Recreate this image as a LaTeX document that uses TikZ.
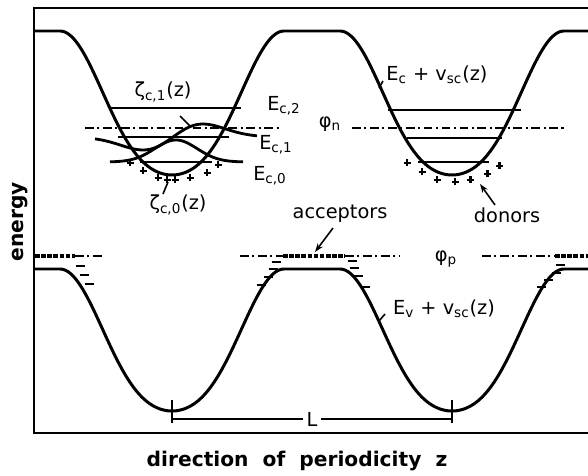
\documentclass[tikz,border=0pt]{standalone}
\usepackage{fontspec}
\setmainfont{DejaVu Sans}
\usetikzlibrary{arrows.meta}
\tikzset{
  every picture/.style={line width=1.3pt},
  band/.style={line width=1.7pt, line join=round},
  level/.style={line width=1.4pt},
  wave/.style={line width=1.6pt},
  fermi/.style={line width=1.5pt, dash pattern=on 5pt off 2pt on 1.2pt off 2pt},
  acc/.style={line width=2.6pt, dash pattern=on 2.6pt off 0.9pt},
  lbl/.style={font=\fontsize{11}{13}\selectfont, inner sep=1pt},
  axislbl/.style={font=\bfseries\fontsize{11.5}{14}\selectfont},
  pointer/.style={-{Stealth[length=5pt, width=3.5pt]}, line width=0.9pt},
  leader/.style={line width=0.9pt},
}

\begin{document}
\begin{tikzpicture}[x=0.02cm, y=-0.02cm,
    charge/.style={line width=1.7pt},
    declare function={dist(\x)=abs(mod(\x-32,280)-140);
                      tt(\x)=min(dist(\x)/112,1);
                      cc(\x)=(1-cos(180*tt(\x)))/2;
                      ss(\x)=cc(\x)*(1+cc(\x))/2;}]
  \useasboundingbox (0,0) rectangle (588,476);
  % frame
  \draw (588,8) -- (34,8) -- (34,433) -- (588,433);

  % band edges
  \draw[band] plot[domain=34:588, samples=278] (\x, {175-144*ss(\x)});
  \draw[band] plot[domain=34:588, samples=278] (\x, {411-142*ss(\x)});

  % subband levels
  \draw[level] (110,108) -- (241,108);
  \draw[level] (118,137) -- (229,137);
  \draw[level] (140,162) -- (212,162);
  \draw[level] (388,110) -- (521,110);
  \draw[level] (407,138) -- (502,138);
  \draw[level] (418,162) -- (489,162);

  % envelope functions
  \draw[wave] plot[domain=110:243, samples=80] (\x, {162-22*exp(-((\x-176)/30)^2)});
  \draw[wave] plot[domain=95:257, samples=80] (\x, {137-21.4*((\x-173)/30)*exp(-0.5*((\x-173)/30)^2)});

  % quasi Fermi levels
  \draw[fermi] (85,128) -- (280,128);
  \draw[fermi] (352,128) -- (567,128);
  \draw[fermi] (75,256) -- (103,256);
  \draw[fermi] (240,256) -- (283,256);
  \draw[fermi] (345,256) -- (400,256);
  \draw[fermi] (482,256) -- (555,256);
  \draw[acc] (35,256) -- (75,256);
  \draw[acc] (283,256) -- (345,256);
  \draw[acc] (555,256) -- (588,256);

  % ionised donors
  \foreach \px/\py in {130/163, 143/171, 158/178, 167/180, 175/180, 190/178, 207/173, 218/165,
                       407/163, 422/172, 437/180, 455/182, 470/180, 487/174, 499/166}
    \draw[charge] ({\px-3.5},\py) -- ({\px+3.5},\py) (\px,{\py-3.5}) -- (\px,{\py+3.5});
  % ionised acceptors
  \foreach \px/\py in {80/266, 84/275, 89/284,
                       276/262, 273/269, 268/277, 261/285,
                       352/261, 354/268, 358/276, 365/287,
                       560/265, 556/273, 548/280, 541/287}
    \draw[charge] ({\px-4.5},\py) -- ({\px+4.5},\py);

  % labels
  \node[lbl] (zeta1) at (163,92) {ζ\textsubscript{c,1}(z)};
  \node[lbl] (ec2) at (284,106) {E\textsubscript{c,2}};
  \node[lbl] (ec1) at (276,145) {E\textsubscript{c,1}};
  \node[lbl] (ec0) at (270,176) {E\textsubscript{c,0}};
  \node[lbl] (zeta0) at (178,205) {ζ\textsubscript{c,0}(z)};
  \node[lbl] (ecband) at (437,75) {E\textsubscript{c} + v\textsubscript{sc}(z)};
  \node[lbl] (phin) at (330,124) {φ\textsubscript{n}};
  \node[lbl] (accept) at (340,214) {acceptors};
  \node[lbl] (donor) at (507,215) {donors};
  \node[lbl] (phip) at (446,259) {φ\textsubscript{p}};
  \node[lbl] (evband) at (444,309) {E\textsubscript{v} + v\textsubscript{sc}(z)};
  \node[axislbl, rotate=90] (energy) at (20,222) {energy};
  \node[axislbl] (zaxis) at (297,461) {direction\ \ of\ \ periodicity\ \ z};

  % pointers
  \coordinate (z1a) at (180,116);
  \coordinate (z1b) at (190,126);
  \coordinate (z0a) at (163,194);
  \coordinate (z0b) at (168,182);
  \coordinate (eca) at (383,81);
  \coordinate (ecb) at (379,88);
  \coordinate (eva) at (385,314);
  \coordinate (evb) at (379,321);
  \coordinate (acca) at (333,228);
  \coordinate (accb) at (315,252);
  \coordinate (dona) at (495,205);
  \coordinate (donb) at (480,184);
  \draw[leader] (z1a) -- (z1b);
  \draw[leader] (z0a) -- (z0b);
  \draw[leader] (eca) -- (ecb);
  \draw[leader] (eva) -- (evb);
  \draw[pointer] (acca) -- (accb);
  \draw[pointer] (dona) -- (donb);

  % period
  \coordinate (la) at (172,419);
  \coordinate (lb) at (452,419);
  \draw (172,400) -- (172,423);
  \draw (452,400) -- (452,423);
  \draw (la) -- node[lbl, fill=white, inner sep=2pt] (period) {L} (lb);
\end{tikzpicture}
\end{document}
